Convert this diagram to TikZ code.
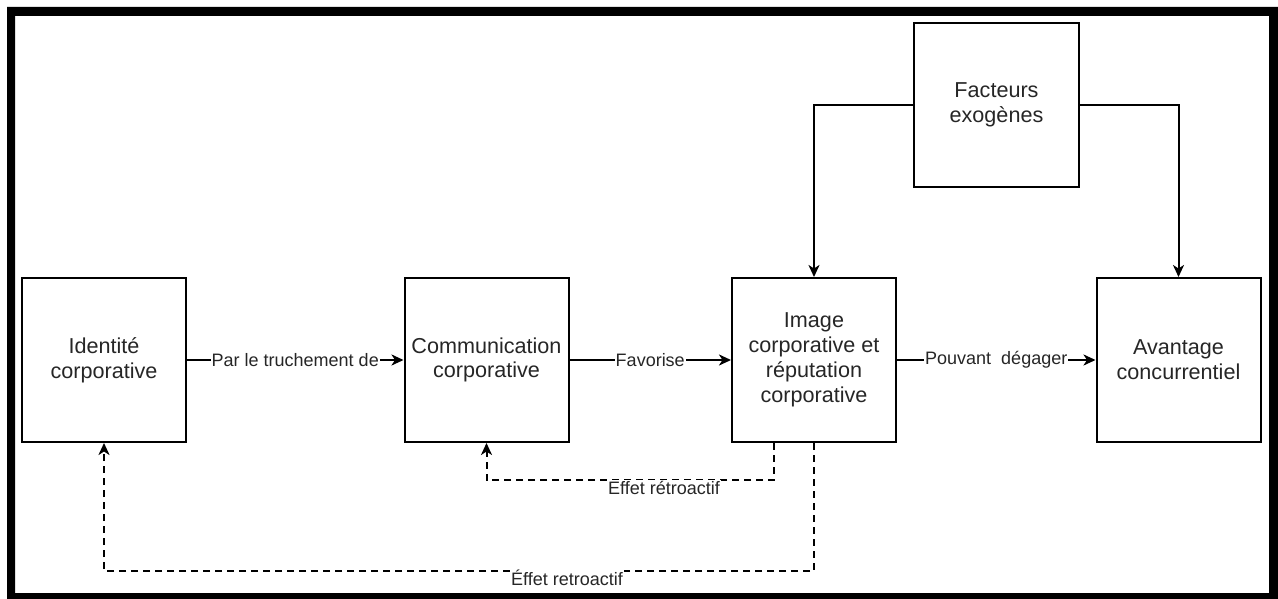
\documentclass[tikz,border=0pt]{standalone}
\usepackage{fontspec}
\setmainfont{Liberation Sans}
\usetikzlibrary{arrows.meta}
\begin{document}
\begin{tikzpicture}[x=1pt,y=-1pt,
  box/.style={draw, line width=2pt, minimum width=164pt, minimum height=164pt,
    align=center, inner sep=2pt, text=black!85, font=\fontsize{21.6}{24.8}\selectfont},
  arr/.style={line width=2pt, -{Stealth[length=12pt,width=11pt,inset=3.5pt]}},
  fb/.style={arr, dash pattern=on 7pt off 5pt},
  lbl/.style={fill=white, inner sep=1pt, text=black!85, font=\fontsize{18}{20}\selectfont}]
  \useasboundingbox (0,0) rectangle (1278,599);
  % outer frame
  \fill[black, even odd rule] (7,7) rectangle (1278,599) (15,16) rectangle (1269,593);

  % blocks
  \node[box] (id)  at (104,360)   {Identité\\corporative};
  \node[box] (com) at (486.5,360) {Communication\\corporative};
  \node[box] (img) at (814,360)   {Image\\corporative et\\réputation\\corporative};
  \node[box] (av)  at (1178.5,360){Avantage\\concurrentiel};
  \node[box, minimum width=165pt] (fx) at (996.5,105) {Facteurs\\exogènes};

  % main chain
  \draw[arr] (id) -- node[lbl] {Par le truchement de} (com);
  \draw[arr] (com) -- node[lbl] {Favorise} (img);
  \draw[arr] (img) -- node[lbl] {Pouvant\ \ dégager} (av);

  % exogenous factors
  \draw[arr] (fx.west) -| (img.north);
  \draw[arr] (fx.east) -| (av.north);

  % feedback loops
  \coordinate (s1) at ([xshift=-40pt]img.south);
  \draw[fb] (s1) -- ++(0,37) -| (com.south);
  \node[lbl] (l1) at (664,488) {Effet rétroactif};
  \draw[fb] (img.south) -- ++(0,128) -| (id.south);
  \node[lbl] (l2) at (567,578) {Éffet retroactif};
\end{tikzpicture}
\end{document}
